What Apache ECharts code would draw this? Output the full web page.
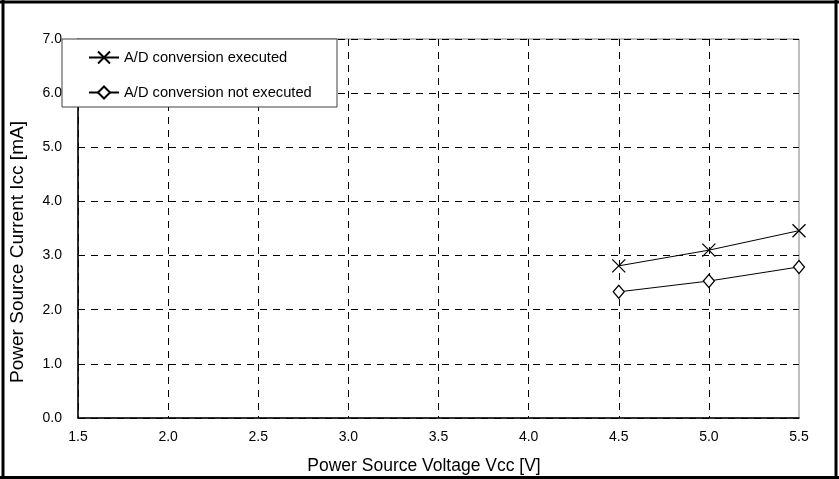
<!DOCTYPE html>
<html><head><meta charset="utf-8">
<script src="https://cdn.jsdelivr.net/npm/echarts@6/dist/echarts.min.js"></script>
<style>html,body{margin:0;padding:0;background:#fff}#c{width:839px;height:479px}</style>
</head><body><div id="c"></div>
<script>
const voltages = [4.5, 5.0, 5.5];
const executed = [2.81, 3.10, 3.46];
const notExecuted = [2.33, 2.53, 2.79];
const seriesNames = ['A/D conversion executed', 'A/D conversion not executed'];
const xTitle = 'Power Source Voltage Vcc [V]';
const yTitle = 'Power Source Current Icc [mA]';

const chart = echarts.init(document.getElementById('c'), null, {renderer: 'canvas'});
const font = 'Liberation Sans, Arial, sans-serif';
const crossPath = 'path://M0,0L10,10M10,0L0,10';
chart.setOption({
  animation: false,
  backgroundColor: '#fff',
  grid: {left: 78, right: 40, top: 39, bottom: 61, show: true, borderColor: '#808080', borderWidth: 1},
  xAxis: {
    type: 'value', min: 1.5, max: 5.5, interval: 0.5,
    axisLine: {show: true, lineStyle: {color: '#000', width: 1.5}},
    axisTick: {show: false},
    axisLabel: {fontFamily: font, fontSize: 14, color: '#000', margin: 12, formatter: v => v.toFixed(1)},
    splitLine: {show: true, showMaxLine: false, lineStyle: {color: '#000', type: [7, 6], width: 1}}
  },
  yAxis: {
    type: 'value', min: 0, max: 7, interval: 1,
    axisLine: {show: true, lineStyle: {color: '#000', width: 1.5}},
    axisTick: {show: false},
    axisLabel: {fontFamily: font, fontSize: 14, color: '#000', margin: 16, formatter: v => v.toFixed(1)},
    splitLine: {show: true, lineStyle: {color: '#000', type: [7, 6], width: 1}}
  },
  legend: {
    orient: 'vertical', left: 88, top: 50, padding: 0, itemGap: 20, itemWidth: 30, itemHeight: 15,
    textStyle: {fontFamily: font, fontSize: 14.7, color: '#000'},
    data: seriesNames
  },
  graphic: [
    {type: 'rect', shape: {x: 62, y: 39, width: 275, height: 68}, style: {fill: '#fff', stroke: '#404040', lineWidth: 1}, z: 3, silent: true},
    {type: 'text', x: 18, y: 252, rotation: Math.PI / 2,
     style: {text: yTitle, fontFamily: font, fontSize: 19, fill: '#000', align: 'center', verticalAlign: 'middle'}, z: 10},
    {type: 'text', x: 424, y: 466,
     style: {text: xTitle, fontFamily: font, fontSize: 17.5, fill: '#000', align: 'center', verticalAlign: 'middle'}, z: 10},
    {type: 'line', shape: {x1: 0, y1: 2, x2: 839, y2: 2}, style: {stroke: '#000', lineWidth: 3}, z: 10},
    {type: 'line', shape: {x1: 0, y1: 477.5, x2: 839, y2: 477.5}, style: {stroke: '#000', lineWidth: 3}, z: 10},
    {type: 'line', shape: {x1: 3, y1: 0, x2: 3, y2: 479}, style: {stroke: '#000', lineWidth: 3}, z: 10},
    {type: 'line', shape: {x1: 836, y1: 0, x2: 836, y2: 479}, style: {stroke: '#000', lineWidth: 3}, z: 10}
  ],
  series: [
    {
      name: seriesNames[0], type: 'line',
      data: voltages.map((v, i) => [v, executed[i]]),
      symbol: crossPath, symbolSize: 13, showAllSymbol: true,
      lineStyle: {color: '#000', width: 1},
      itemStyle: {color: '#000', borderColor: '#000', borderWidth: 1.3},
      z: 5
    },
    {
      name: seriesNames[1], type: 'line',
      data: voltages.map((v, i) => [v, notExecuted[i]]),
      symbol: 'diamond', symbolSize: [11, 13], showAllSymbol: true,
      lineStyle: {color: '#000', width: 1},
      itemStyle: {color: '#fff', borderColor: '#000', borderWidth: 1.3},
      z: 5
    }
  ]
});
</script></body></html>
